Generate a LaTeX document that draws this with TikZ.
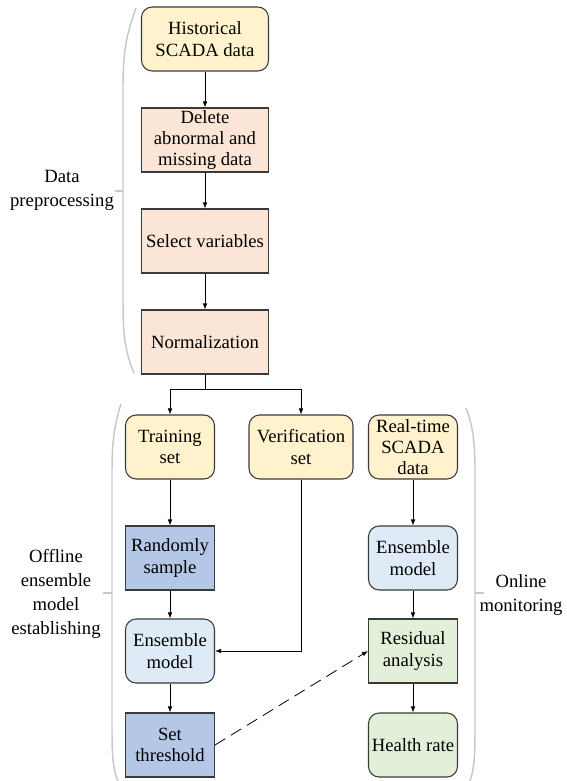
\documentclass[tikz,border=0pt]{standalone}
\usepackage{fontspec}
\setmainfont{Liberation Serif}
\usetikzlibrary{arrows.meta}

\definecolor{ylw}{HTML}{FFF2CC}
\definecolor{pch}{HTML}{FBE5D6}
\definecolor{blu}{HTML}{B4C7E7}
\definecolor{lblu}{HTML}{DEEBF7}
\definecolor{grn}{HTML}{E2F0D9}
\definecolor{brd}{HTML}{3A3A3A}
\definecolor{brk}{HTML}{C8C8C8}

\begin{document}
\begin{tikzpicture}[x=0.75pt,y=-0.75pt]
\tikzstyle{box}=[draw=brd,line width=0.8pt,align=center,inner sep=1pt,minimum height=48pt,font=\fontsize{14}{16}\selectfont]
\tikzstyle{wide}=[box,minimum width=95.25pt]
\tikzstyle{narrow}=[box,minimum width=66.75pt]
\tikzstyle{rnd}=[rounded corners=8pt]
\tikzstyle{line}=[-{Latex[length=4.5pt,width=3.5pt]},line width=0.6pt,draw=black]
\tikzstyle{bracket}=[draw=brk,line width=1.1pt]
\tikzstyle{lbl}=[align=center,font=\fontsize{14}{18}\selectfont]

\useasboundingbox (0,0) rectangle (567,781);

% data preprocessing
\node[wide,rnd,fill=ylw] (hist) at (205,39) {Historical\\SCADA data};
\node[wide,fill=pch] (del) at (205,140) {Delete\\abnormal and\\missing data};
\node[wide,fill=pch] (sel) at (205,241) {Select variables};
\node[wide,fill=pch] (norm) at (205,342) {Normalization};

% offline part
\node[narrow,rnd,fill=ylw] (train) at (170,447) {Training\\set};
\node[narrow,rnd,fill=ylw,minimum width=78pt] (verif) at (301,447) {Verification\\set};
\node[narrow,fill=blu] (rand) at (170,558) {Randomly\\sample};
\node[narrow,rnd,fill=lblu] (ensl) at (170,651) {Ensemble\\model};
\node[narrow,fill=blu] (thr) at (170,745) {Set\\threshold};

% online part
\node[narrow,rnd,fill=ylw] (real) at (413,447) {Real-time\\SCADA\\data};
\node[narrow,rnd,fill=lblu] (ensr) at (413,558) {Ensemble\\model};
\node[narrow,fill=grn] (res) at (413,651) {Residual\\analysis};
\node[narrow,rnd,fill=grn] (health) at (413,745) {Health rate};

\coordinate (split) at (205,389);

\draw[line] (hist) -- (del);
\draw[line] (del) -- (sel);
\draw[line] (sel) -- (norm);
\draw[line width=0.6pt] (norm) -- (split);
\draw[line] (split) -| (train);
\draw[line] (split) -| (verif);
\draw[line] (train) -- (rand);
\draw[line] (rand) -- (ensl);
\draw[line] (ensl) -- (thr);
\draw[line] (verif) |- (ensl);
\draw[line] (real) -- (ensr);
\draw[line] (ensr) -- (res);
\draw[line] (res) -- (health);
\draw[line,dash pattern=on 9pt off 5pt] (thr.east) -- (res.west);

% brackets
\draw[bracket] (136,8) .. controls (124,40) and (123,60) .. (123,90) -- (123,300) .. controls (123,330) and (124,350) .. (134,373);
\draw[bracket] (115,191) -- (123,191);
\draw[bracket] (121,404) .. controls (114,425) and (112,445) .. (112,470) -- (112,730) .. controls (112,755) and (113,770) .. (118,781);
\draw[bracket] (103,593) -- (112,593);
\draw[bracket] (466,408) .. controls (473,425) and (475,445) .. (475,470) -- (475,730) .. controls (475,755) and (474,770) .. (470,781);
\draw[bracket] (475,593) -- (484,593);

\node[lbl] (pre) at (62,190) {Data\\preprocessing};
\node[lbl] (off) at (56,594) {Offline\\ensemble\\model\\establishing};
\node[lbl] (on) at (521,595) {Online\\monitoring};
\end{tikzpicture}
\end{document}
